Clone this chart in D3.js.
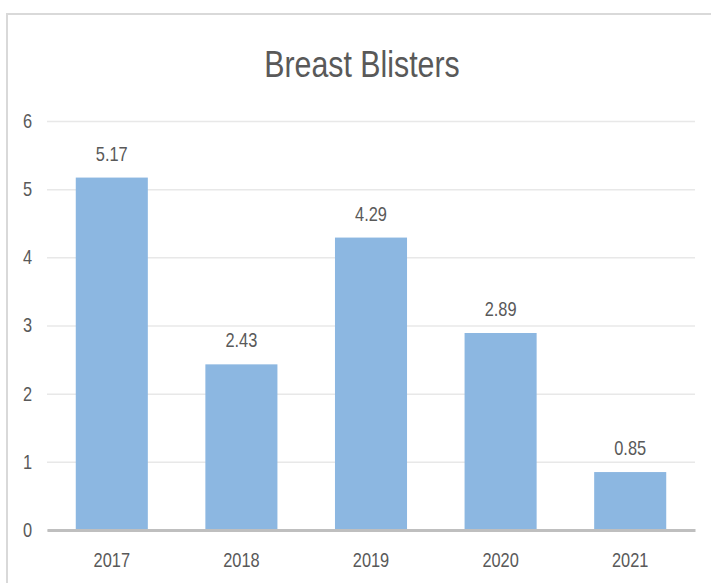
<!DOCTYPE html>
<html>
<head>
<meta charset="utf-8">
<script src="https://cdn.jsdelivr.net/npm/d3@7"></script>
<style>
  html, body { margin: 0; padding: 0; background: #fff; }
  svg { display: block; }
  text {
    font-family: "Liberation Sans", Arial, sans-serif;
    fill: #595959;
    transform-box: fill-box;
    transform-origin: center;
    transform: scaleX(0.82);
  }
  .y-lbl text { transform-origin: right center; }
</style>
</head>
<body>
<svg id="chart" width="711" height="583"></svg>
<script>
// Chart data
const title = "Breast Blisters";
const years = ["2017", "2018", "2019", "2020", "2021"];
const values = [5.17, 2.43, 4.29, 2.89, 0.85];
const yTicks = [0, 1, 2, 3, 4, 5, 6];

const svg = d3.select("#chart");
const plot = { left: 47, right: 695, top: 121, bottom: 530 };

// outer frame (runs off the right/bottom edge like the screenshot)
svg.append("rect")
    .attr("x", 7).attr("y", 14)
    .attr("width", 740).attr("height", 620)
    .attr("fill", "none")
    .attr("stroke", "#d9d9d9")
    .attr("stroke-width", 2);

const x = d3.scaleBand()
    .domain(years)
    .range([plot.left, plot.right])
    .paddingInner(0.444)
    .paddingOuter(0.222);

const y = d3.scaleLinear()
    .domain([0, 6])
    .range([plot.bottom, plot.top]);

// title
svg.append("text")
    .attr("x", 362)
    .attr("y", 77)
    .attr("text-anchor", "middle")
    .style("font-size", "37px")
    .attr("fill", "#606060")
    .text(title);

// gridlines
const yAxis = d3.axisLeft(y)
    .tickValues(yTicks)
    .tickSize(-(plot.right - plot.left))
    .tickPadding(15)
    .tickFormat(d3.format("d"));

const gy = svg.append("g")
    .attr("class", "y-lbl")
    .attr("transform", `translate(${plot.left},0)`)
    .call(yAxis);
gy.select(".domain").remove();
gy.selectAll(".tick line")
    .attr("stroke", "#e8e8e8")
    .attr("stroke-width", 1.5);
gy.selectAll(".tick text")
    .style("font-size", "20px")
    .attr("fill", "#595959");

const rows = years.map((d, i) => ({ year: d, value: values[i] }));

// bars
svg.append("g")
    .selectAll("rect")
    .data(rows)
    .join("rect")
    .attr("x", d => x(d.year))
    .attr("y", d => y(d.value))
    .attr("width", x.bandwidth())
    .attr("height", d => y(0) - y(d.value))
    .attr("fill", "#8cb7e1");

// value labels
svg.append("g")
    .selectAll("text")
    .data(rows)
    .join("text")
    .attr("x", d => x(d.year) + x.bandwidth() / 2)
    .attr("y", d => y(d.value) - 17)
    .attr("text-anchor", "middle")
    .style("font-size", "20px")
    .text(d => d.value.toFixed(2));

// x axis
const gx = svg.append("g")
    .attr("transform", `translate(0,${plot.bottom})`)
    .call(d3.axisBottom(x).tickSize(0).tickPadding(23));
gx.select(".domain")
    .attr("stroke", "#bfbfbf")
    .attr("stroke-width", 3);
gx.selectAll(".tick text")
    .style("font-size", "20px")
    .attr("fill", "#595959");
</script>
</body>
</html>
